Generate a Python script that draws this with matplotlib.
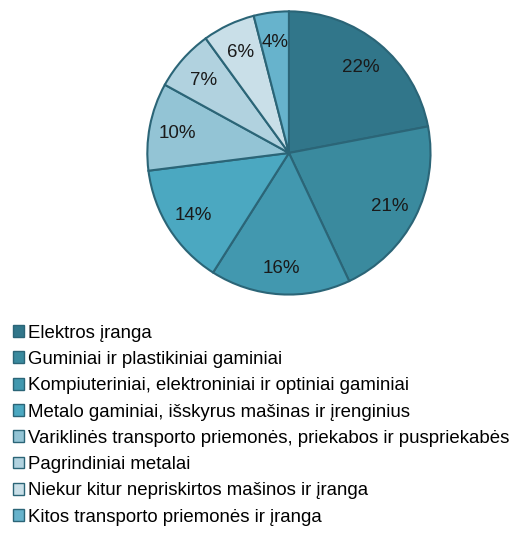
import matplotlib
matplotlib.use("Agg")
import matplotlib.pyplot as plt
from matplotlib.patches import Patch

categories = [
    "Elektros įranga",
    "Guminiai ir plastikiniai gaminiai",
    "Kompiuteriniai, elektroniniai ir optiniai gaminiai",
    "Metalo gaminiai, išskyrus mašinas ir įrenginius",
    "Variklinės transporto priemonės, priekabos ir puspriekabės",
    "Pagrindiniai metalai",
    "Niekur kitur nepriskirtos mašinos ir įranga",
    "Kitos transporto priemonės ir įranga",
]
values = [22, 21, 16, 14, 10, 7, 6, 4]
colors = ["#31768A", "#3A8A9E", "#4298AF", "#4BA8C1",
          "#93C4D5", "#B1D2DF", "#C9DFE8", "#67B3CC"]
edge = "#2B6577"

plt.rcParams['font.family'] = ['Liberation Sans', 'DejaVu Sans']

fig = plt.figure(figsize=(5.12, 5.41), dpi=100)
ax = fig.add_axes([0.285, 0.4529, 0.5586, 0.5287])
wedges, texts, autotexts = ax.pie(
    values, colors=colors, startangle=90, counterclock=False,
    autopct=lambda p: f"{p:.0f}%", pctdistance=0.8,
    wedgeprops=dict(edgecolor=edge, linewidth=1.5),
    textprops=dict(fontsize=13.5, color="#1a1a1a"))
for t in autotexts:
    t.set_va("center_baseline")
ax.set_xlim(-1.01, 1.01)
ax.set_ylim(-1.01, 1.01)
ax.set_aspect("equal")
ax.axis("off")

handles = [Patch(facecolor=c, edgecolor=edge, linewidth=1.0) for c in colors]
fig.legend(handles, categories, loc="upper left", bbox_to_anchor=(0.026, 0.40),
           frameon=False, fontsize=13.4, handlelength=0.6, handleheight=0.6,
           handletextpad=0.19, labelspacing=0.5, borderaxespad=0, borderpad=0)
fig.savefig("out.png", dpi=100)
